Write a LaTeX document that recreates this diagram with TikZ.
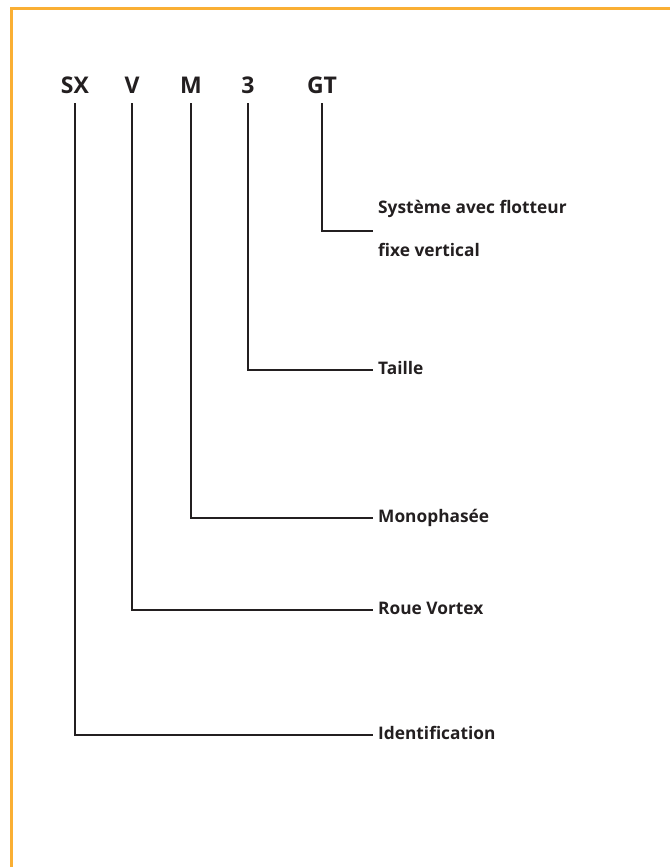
\documentclass[tikz,border=0pt]{standalone}
\usepackage{fontspec}
\setmainfont{Open Sans}
\usepackage{tikz}
\usetikzlibrary{positioning}
\definecolor{frameorange}{RGB}{250,175,52}
\definecolor{inkgray}{RGB}{35,31,32}
\tikzset{
    code/.style={font=\fontsize{23}{27}\selectfont\bfseries, text=inkgray, inner sep=0pt, text depth=0pt, anchor=base, outer ysep=10pt},
    meaning/.style={font=\fontsize{17.3}{20.5}\selectfont\bfseries, text=inkgray, anchor=west, align=left, inner xsep=5pt},
    lead/.style={draw=inkgray, line width=2.9pt},
}

\begin{document}
\begin{tikzpicture}[x=1pt,y=1pt,yscale=-1,xscale=1]
\useasboundingbox (0,0) rectangle (670,867);
%Frame
\draw [frameorange, line width=3pt] (11.3,867) -- (11.3,8.7) -- (670,8.7);
%Code letters
\node [code] (sx) at (75,93) {SX};
\node [code] (v) at (132,93) {V};
\node [code] (m) at (191,93) {M};
\node [code] (three) at (248,93) {3};
\node [code] (gt) at (322,93) {GT};
%Meanings
\node [meaning] (sys) at (373,231) {\strut Système avec flotteur\\[23pt]\strut fixe vertical};
\node [meaning] (taille) at (373,370) {\strut Taille};
\node [meaning] (mono) at (373,518) {\strut Monophasée};
\node [meaning] (roue) at (373,610) {\strut Roue Vortex};
\node [meaning] (ident) at (373,735) {\strut Identification};
%Leads
\draw [lead] (gt.south) |- (sys.west);
\draw [lead] (three.south) |- (taille.west);
\draw [lead] (m.south) |- (mono.west);
\draw [lead] (v.south) |- (roue.west);
\draw [lead] (sx.south) |- (ident.west);
\end{tikzpicture}
\end{document}
